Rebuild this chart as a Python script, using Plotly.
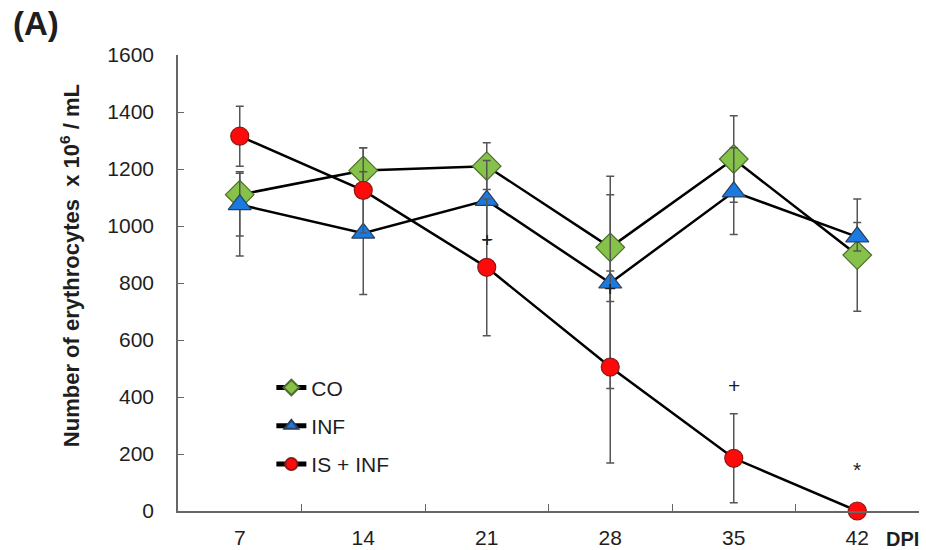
import plotly.graph_objects as go

days = ["7", "14", "21", "28", "35", "42"]

co = [1110, 1195, 1210, 925, 1235, 898]
co_plus = [80, 80, 82, 250, 152, 197]
co_minus = [215, 80, 82, 190, 152, 197]

inf = [1075, 975, 1090, 800, 1120, 962]
inf_plus = [110, 215, 140, 310, 155, 50]
inf_minus = [110, 215, 140, 370, 150, 50]

isinf = [1315, 1125, 855, 505, 185, 0]
is_plus = [105, 150, 240, 337, 156, 0]
is_minus = [105, 150, 240, 337, 156, 0]

sig_days = ["21", "28", "35", "42"]
sig_vals = [951, 782, 439, 144]
sig_text = ["+", "+", "+", "*"]

FONT = "Liberation Sans, Arial, sans-serif"
TXT = "#1e1e1e"

def err(p, m):
    return dict(type="data", symmetric=False, array=p, arrayminus=m,
                color="#555555", thickness=1.5, width=4)

fig = go.Figure()
fig.add_trace(go.Scatter(
    x=days, y=co, name="CO", mode="lines+markers", legendgroup="a",
    cliponaxis=False,
    line=dict(color="black", width=2.5),
    marker=dict(symbol="diamond", size=22, color="#86c149",
                line=dict(color="#4d6b2e", width=1.2)),
    error_y=err(co_plus, co_minus)))
fig.add_trace(go.Scatter(
    x=days, y=inf, name="INF", mode="lines+markers", legendgroup="b",
    cliponaxis=False,
    line=dict(color="black", width=2.5),
    marker=dict(symbol="triangle-up", size=20, color="#1a7ae0",
                line=dict(color="#2b3f5c", width=1.2)),
    error_y=err(inf_plus, inf_minus)))
fig.add_trace(go.Scatter(
    x=days, y=isinf, name="IS + INF", mode="lines+markers", legendgroup="c",
    cliponaxis=False,
    line=dict(color="black", width=2.5),
    marker=dict(symbol="circle", size=18, color="#ff0a0a",
                line=dict(color="#8a1a1a", width=1.2)),
    error_y=err(is_plus, is_minus)))

for d, v, t in zip(sig_days, sig_vals, sig_text):
    fig.add_annotation(x=days.index(d), y=v, text=t, showarrow=False,
                       font=dict(size=21, color=TXT, family=FONT))

fig.add_annotation(xref="paper", yref="paper", x=-0.226, y=1.025, xanchor="left",
                   yanchor="bottom", text="<b>(A)</b>", showarrow=False,
                   font=dict(size=33, color=TXT, family=FONT))
fig.add_annotation(xref="paper", yref="paper", x=1.003, y=-0.061, xanchor="right",
                   yanchor="middle", text="<b>DPI</b>", showarrow=False,
                   font=dict(size=20, color=TXT, family=FONT))
fig.add_annotation(xref="paper", yref="paper", x=-0.1457, y=0.537,
                   xanchor="center", yanchor="middle", textangle=-90,
                   text="<b>Number of erythrocytes  x 10<sup>6</sup> / mL</b>",
                   showarrow=False, font=dict(size=22, color=TXT, family=FONT))

fig.update_layout(
    width=926, height=550,
    margin=dict(l=178, r=7, t=55, b=39),
    paper_bgcolor="white", plot_bgcolor="white",
    font=dict(family=FONT, color=TXT, size=21),
    showlegend=True,
    legend=dict(x=0.126, y=0.315, xanchor="left", yanchor="top",
                bgcolor="rgba(0,0,0,0)", tracegroupgap=8,
                itemsizing="constant",
                font=dict(size=21, color=TXT)),
    xaxis=dict(type="category", tickson="boundaries", ticks="inside",
               ticklen=7, tickcolor="#666666", showline=True,
               linecolor="#666666", linewidth=1.5, showgrid=False,
               zeroline=False, range=[-0.5, 5.5], ticklabelstandoff=7,
               automargin=False,
               tickfont=dict(size=21, color=TXT)),
    yaxis=dict(range=[0, 1600], dtick=200, ticks="inside", ticklen=6,
               tickcolor="#666666", showline=True, linecolor="#666666",
               linewidth=1.5, showgrid=False, zeroline=False,
               ticklabelstandoff=18, automargin=False,
               tickfont=dict(size=21, color=TXT)),
)

fig.write_html("out.html", config={"displayModeBar": False},
               post_script="document.body.style.margin='0';")
